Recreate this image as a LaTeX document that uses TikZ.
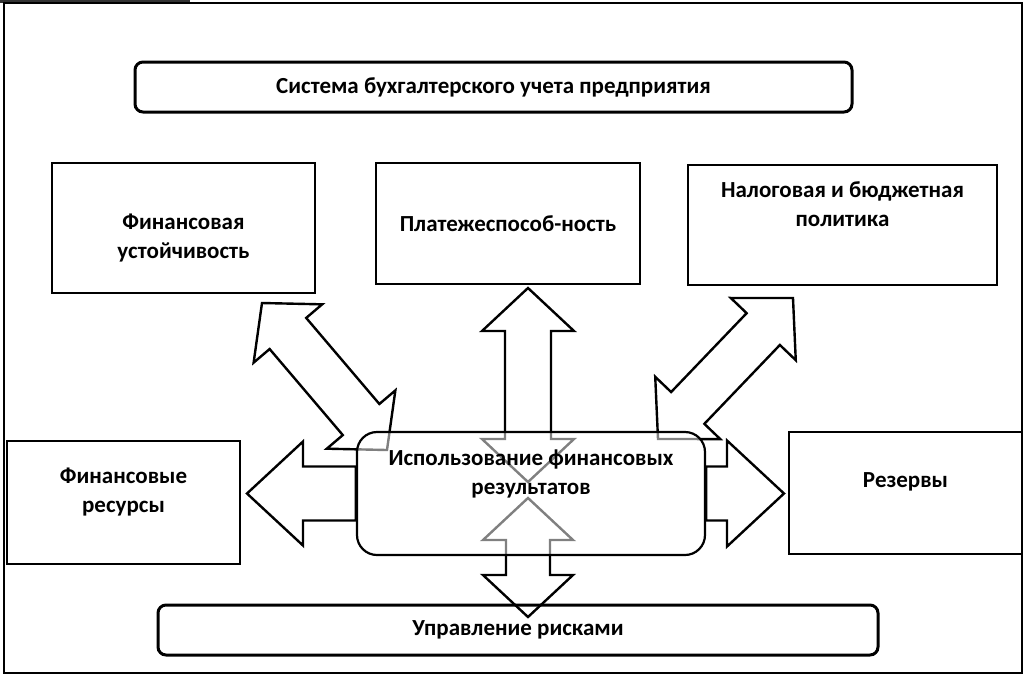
\documentclass[tikz,border=0pt]{standalone}
\usepackage{fontspec}
\setmainfont{Carlito}
\usetikzlibrary{calc,backgrounds}
\tikzset{
  plainbox/.style={draw, line width=0.8pt, inner sep=0pt},
  roundbox/.style={draw, line width=1.5pt, rounded corners=4pt, inner sep=0pt},
  blockarrow/.style={draw, fill=white, line width=1.2pt, line join=miter},
}
% from, to, half shaft, half head, head length
\newcommand\dblblock[5]{%
  \draw[blockarrow] (#1)
    -- ($(#1)!#5!(#2)!#4!90:(#2)$) -- ($(#1)!#5!(#2)!#3!90:(#2)$)
    -- ($(#2)!#5!(#1)!#3!-90:(#1)$) -- ($(#2)!#5!(#1)!#4!-90:(#1)$)
    -- (#2)
    -- ($(#2)!#5!(#1)!#4!90:(#1)$) -- ($(#2)!#5!(#1)!#3!90:(#1)$)
    -- ($(#1)!#5!(#2)!#3!-90:(#2)$) -- ($(#1)!#5!(#2)!#4!-90:(#2)$)
    -- cycle;}
% tail, tip, half shaft, half head, head length
\newcommand\oneblock[5]{%
  \draw[blockarrow] ($(#1)!#3!90:(#2)$)
    -- ($(#2)!#5!(#1)!#3!-90:(#1)$) -- ($(#2)!#5!(#1)!#4!-90:(#1)$)
    -- (#2)
    -- ($(#2)!#5!(#1)!#4!90:(#1)$) -- ($(#2)!#5!(#1)!#3!90:(#1)$)
    -- ($(#1)!#3!-90:(#2)$) -- cycle;}
\begin{document}
\begin{tikzpicture}[x=0.5pt, y=-0.5pt, align=center,
    font=\bfseries\fontsize{11.5}{14.5}\selectfont]
  \useasboundingbox (0,0) rectangle (1025,677);
  \fill[black!80] (0,0) rectangle (190,2.5);
  \draw[line width=0.8pt] (4,3) rectangle (1022,673);

  \node[roundbox, minimum width=358.5pt, minimum height=25pt] (sys) at (493.5,87) {Система бухгалтерского учета предприятия};
  \node[plainbox, minimum width=131.5pt, minimum height=65pt,
    label={[yshift=-5pt]center:Финансовая\\устойчивость}] (fu) at (183.5,228) {};
  \node[plainbox, minimum width=132pt, minimum height=60.5pt] (pl) at (508,223.5) {Платежеспособ-ность};
  \node[plainbox, minimum width=154.5pt, minimum height=60pt,
    label={[yshift=10.5pt]center:Налоговая и бюджетная\\политика}] (nal) at (842.5,225) {};
  \node[plainbox, minimum width=116.5pt, minimum height=61.5pt,
    label={[yshift=5pt]center:Финансовые\\ресурсы}] (fr) at (123.5,502.5) {};
  \node[plainbox, minimum width=116.5pt, minimum height=61pt,
    label={[yshift=5.5pt]center:Резервы}] (rez) at (905.5,493) {};
  \node[draw, line width=1.1pt, rounded corners=10pt, fill=white, fill opacity=0.5, text opacity=1,
    minimum width=174pt, minimum height=61.5pt,
    label={[yshift=9.75pt]center:Использование финансовых\\результатов}] (use) at (531,493.5) {};
  \node[roundbox, minimum width=360pt, minimum height=25pt] (risk) at (518,630) {Управление рисками};

  \coordinate (plT) at (528,288);   \coordinate (plB) at (528,482);
  \coordinate (rkT) at (528,498);   \coordinate (rkB) at (528,617);
  \coordinate (fuT) at (262,303);   \coordinate (fuB) at (387,450);
  \coordinate (nlT) at (793,298);   \coordinate (nlB) at (658,439);
  \coordinate (frT) at (247,493.5); \coordinate (rzT) at (784,493.5);

  \begin{pgfonlayer}{background}
    \dblblock{plB}{plT}{11.5pt}{23pt}{21.5pt}
    \dblblock{rkT}{rkB}{11pt}{22.5pt}{21pt}
    \dblblock{fuB}{fuT}{12pt}{22.5pt}{20pt}
    \dblblock{nlB}{nlT}{11.5pt}{22.5pt}{21.5pt}
    \oneblock{use.west}{frT}{13.5pt}{26pt}{28pt}
    \oneblock{use.east}{rzT}{13.5pt}{26.5pt}{28.5pt}
  \end{pgfonlayer}
\end{tikzpicture}
\end{document}
